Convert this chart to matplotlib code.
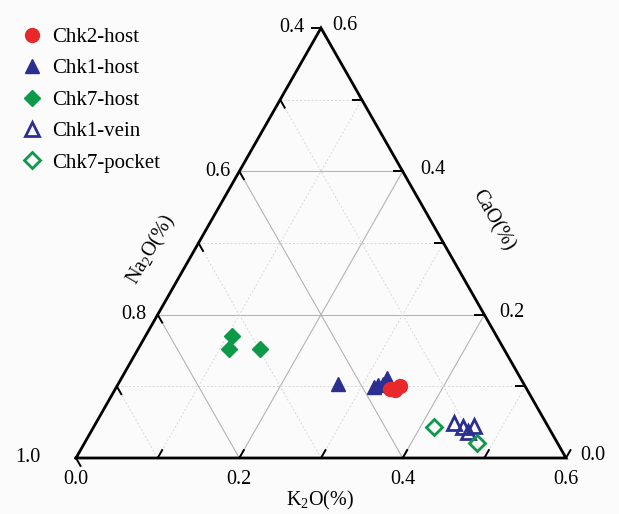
import numpy as np
import matplotlib
matplotlib.use("Agg")
import matplotlib.pyplot as plt

plt.rcParams['font.family'] = ['Liberation Serif', 'DejaVu Serif']
plt.rcParams['mathtext.fontset'] = 'custom'
plt.rcParams['mathtext.rm'] = 'Liberation Serif'
plt.rcParams['mathtext.it'] = 'Liberation Serif:italic'

# Datos: K2O y CaO (Na2O = 1 - K2O - CaO)
chk2_host_k = [0.336, 0.347, 0.343]
chk2_host_ca = [0.096, 0.100, 0.095]

chk1_host_k = [0.269, 0.315, 0.319, 0.325, 0.324]
chk1_host_ca = [0.103, 0.099, 0.102, 0.112, 0.103]

chk7_host_k = [0.106, 0.111, 0.149]
chk7_host_ca = [0.170, 0.152, 0.152]

chk1_vein_k = [0.438, 0.452, 0.465, 0.462]
chk1_vein_ca = [0.049, 0.043, 0.045, 0.036]

chk7_pocket_k = [0.417, 0.481]
chk7_pocket_ca = [0.043, 0.021]

LADO = 0.6
H = np.sqrt(3) / 2


def a_xy(k, ca):
    k = np.asarray(k)
    ca = np.asarray(ca)
    return k + ca / 2, ca * H


# pixeles de referencia para la escala
PX_X0, PX_Y0 = 76, 458
SX = 490 / LADO
SY = 430 / (LADO * H)
W, HT = 619, 514

fig = plt.figure(figsize=(6.19, 5.14), dpi=100, facecolor='#fbfbfb')
ax = fig.add_axes([0, 0, 1, 1])
ax.set_xlim(-PX_X0 / SX, (W - PX_X0) / SX)
ax.set_ylim(-(HT - PX_Y0) / SY, PX_Y0 / SY)
ax.axis('off')


def px(dx, dy):
    return dx / SX, dy / SY


def desde_px(x, y):
    return (x - PX_X0) / SX, (PX_Y0 - y) / SY


# Grilla
for v in [0.1, 0.2, 0.3, 0.4, 0.5]:
    mayor = abs(v - 0.2) < 1e-9 or abs(v - 0.4) < 1e-9
    estilo = dict(color='#b4b4b4', lw=0.8, ls='-') if mayor else \
        dict(color='#d8d8d8', lw=0.7, ls=(0, (2, 2)))
    # CaO constante
    x, y = a_xy([0, LADO - v], [v, v])
    ax.plot(x, y, zorder=1, **estilo)
    # K2O constante
    x, y = a_xy([v, v], [0, LADO - v])
    ax.plot(x, y, zorder=1, **estilo)
    # Na2O constante
    x, y = a_xy([v, 0], [0, v])
    ax.plot(x, y, zorder=1, **estilo)

# Borde del triangulo
x, y = a_xy([0, LADO, 0, 0], [0, 0, LADO, 0])
ax.plot(x, y, color='black', lw=2, zorder=3, solid_joinstyle='miter')

# Marcas
L = 0.011
for v in np.arange(0, LADO + 1e-9, 0.1):
    x0, y0 = a_xy(v, 0)
    ax.plot([x0, x0 + L * 0.5], [y0, y0 + L * H], color='black', lw=1.4, zorder=3)
    x0, y0 = a_xy(0, v)
    ax.plot([x0, x0 + L * 0.5], [y0, y0 - L * H], color='black', lw=1.4, zorder=3)
    x0, y0 = a_xy(LADO - v, v)
    ax.plot([x0, x0 - L], [y0, y0], color='black', lw=1.4, zorder=3)

fs = 14.5
ticks_k = [0.0, 0.2, 0.4, 0.6]
for v in ticks_k:
    x0, y0 = a_xy(v, 0)
    ax.text(x0, y0 + px(0, -21)[1], f"{v:.1f}", ha='center', va='center', fontsize=fs)

ticks_na = [1.0, 0.8, 0.6, 0.4]
off_na = [-36, -11, -9, -16]
for v, o in zip(ticks_na, off_na):
    x0, y0 = a_xy(0, 1 - v)
    ax.text(x0 + px(o, 0)[0], y0, f"{v:.1f}", ha='right', va='center', fontsize=fs)

ticks_ca = [0.0, 0.2, 0.4, 0.6]
off_ca = [14, 15, 18, 11]
for v, o in zip(ticks_ca, off_ca):
    x0, y0 = a_xy(LADO - v, v)
    ax.text(x0 + px(o, 0)[0], y0 + px(0, 2)[1], f"{v:.1f}", ha='left',
            va='center', fontsize=fs)

# Titulos de ejes
ax.text(*desde_px(320, 500), "K$_2$O(%)", ha='center', va='center', fontsize=fs)
ax.text(*desde_px(151, 250), "Na$_2$O(%)", ha='center', va='center',
        fontsize=fs, rotation=60, rotation_mode='anchor')
ax.text(*desde_px(493, 220), "CaO(%)", ha='center', va='center',
        fontsize=fs, rotation=-60, rotation_mode='anchor')

# Datos
rojo = '#e8282b'
azul = '#2b2f91'
verde = '#0d9a48'

x, y = a_xy(chk2_host_k, chk2_host_ca)
ax.plot(x, y, 'o', ms=10, color=rojo, ls='none', label='Chk2-host', zorder=5)
x, y = a_xy(chk1_host_k, chk1_host_ca)
ax.plot(x, y, '^', ms=10, color=azul, ls='none', label='Chk1-host', zorder=4)
x, y = a_xy(chk7_host_k, chk7_host_ca)
ax.plot(x, y, 'D', ms=8.5, color=verde, ls='none', label='Chk7-host', zorder=4)
x, y = a_xy(chk1_vein_k, chk1_vein_ca)
ax.plot(x, y, '^', ms=9.5, mfc='none', mec=azul, mew=2, ls='none',
        label='Chk1-vein', zorder=4)
x, y = a_xy(chk7_pocket_k, chk7_pocket_ca)
ax.plot(x, y, 'D', ms=8, mfc='none', mec=verde, mew=2, ls='none',
        label='Chk7-pocket', zorder=4)

ax.legend(loc='upper left', bbox_to_anchor=(0.021, 0.963), frameon=False,
          fontsize=15, handlelength=1.0, handletextpad=0.48, labelspacing=0.57,
          borderaxespad=0)

fig.savefig("out.png", dpi=100, facecolor=fig.get_facecolor())
